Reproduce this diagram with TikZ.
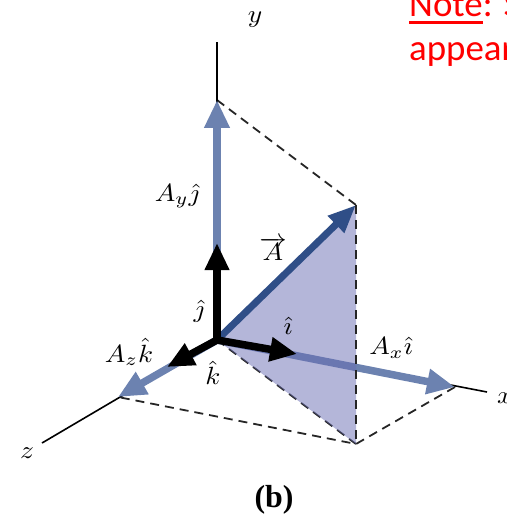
\documentclass[tikz,border=0pt]{standalone}
\usepackage{fontspec}
\newfontfamily\notefont{Carlito}
\newfontfamily\capfont{Liberation Serif}
\usetikzlibrary{arrows.meta}
\definecolor{comp}{RGB}{108,130,176}
\definecolor{vecA}{RGB}{47,78,135}
\definecolor{shadecol}{RGB}{105,109,179}
\definecolor{notered}{RGB}{255,0,0}
\newcommand{\biglbl}[1]{\scalebox{2.75}[2.5]{$#1$}}
\tikzset{
  axisline/.style={black, line width=1.6bp},
  guide/.style={black!85, line width=1.8bp, dash pattern=on 9bp off 6bp},
  comparrow/.style={comp, line width=7.5bp, -{Triangle[length=28bp,width=24bp]}},
  unitarrow/.style={black, line width=7.5bp, -{Triangle[length=27bp,width=23bp]}},
  Aarrow/.style={vecA, line width=7bp, -{Triangle[length=28bp,width=22bp]}},
  lbl/.style={inner sep=0pt},
  notetext/.style={notered, font=\notefont\fontsize{37}{45}\selectfont, inner sep=0pt, anchor=base west},
}
\begin{document}
\begin{tikzpicture}[x=1bp,y=-1bp]
\useasboundingbox (0,0) rectangle (507,517);
\clip (0,0) rectangle (507,517);
% points
\coordinate (O) at (217,340);
\coordinate (Yend) at (217,42);
\coordinate (Xend) at (487,392);
\coordinate (Zend) at (42,443);
\coordinate (Ay) at (217,100);
\coordinate (Ax) at (455,387);
\coordinate (Az) at (118,397);
\coordinate (P) at (356,444);
\coordinate (Atip) at (356,205);
\coordinate (ju) at (217,243);
\coordinate (iu) at (297,354);
\coordinate (ku) at (167,367);
% dashed guides
\draw[guide] (Ay) -- (Atip);
\draw[guide] (O) -- (P);
\draw[guide] (Ax) -- (P) -- (Az);
% axes
\draw[axisline] (O) -- (Yend);
\draw[axisline] (O) -- (Xend);
\draw[axisline] (O) -- (Zend);
% components
\draw[comparrow] (O) -- (Ay);
\draw[comparrow] (O) -- (Ax);
\draw[comparrow] (O) -- (Az);
% shaded triangle (translucent, darkens what lies under it)
\fill[shadecol, fill opacity=0.5] (O) -- (Atip) -- (P) -- cycle;
\draw[guide] (Atip) -- (P);
% vector A
\draw[Aarrow] (O) -- (Atip);
% unit vectors
\draw[unitarrow] (O) -- (ju);
\draw[unitarrow] (O) -- (iu);
\draw[unitarrow] (O) -- (ku);
% labels
\node[lbl] (ly) at (255,20) {\biglbl{y}};
\node[lbl, anchor=west] (lx) at (497,398) {\biglbl{x}};
\node[lbl] (lz) at (27,453) {\biglbl{z}};
\node[lbl] (lAy) at (177,196) {\biglbl{A_y\hat{\jmath}}};
\node[lbl] (lAx) at (391,348) {\biglbl{A_x\hat{\imath}}};
\node[lbl] (lAz) at (129,352) {\biglbl{A_z\hat{k}}};
\node[lbl] (lA) at (273,249) {\biglbl{\overrightarrow{A}}};
\node[lbl] (lj) at (199,311) {\biglbl{\hat{\jmath}}};
\node[lbl] (li) at (288,326) {\biglbl{\hat{\imath}}};
\node[lbl] (lk) at (213,373) {\biglbl{\hat{k}}};
\node[inner sep=0pt, font=\capfont\bfseries\fontsize{32}{36}\selectfont] (cap) at (274,500) {(b)};
% red note
\node[notetext] (note1) at (409,17) {Note: S};
\node[notetext] (note2) at (409,61) {appear};
\draw[notered, line width=3bp] (409,23) -- (483,23);
\end{tikzpicture}
\end{document}
